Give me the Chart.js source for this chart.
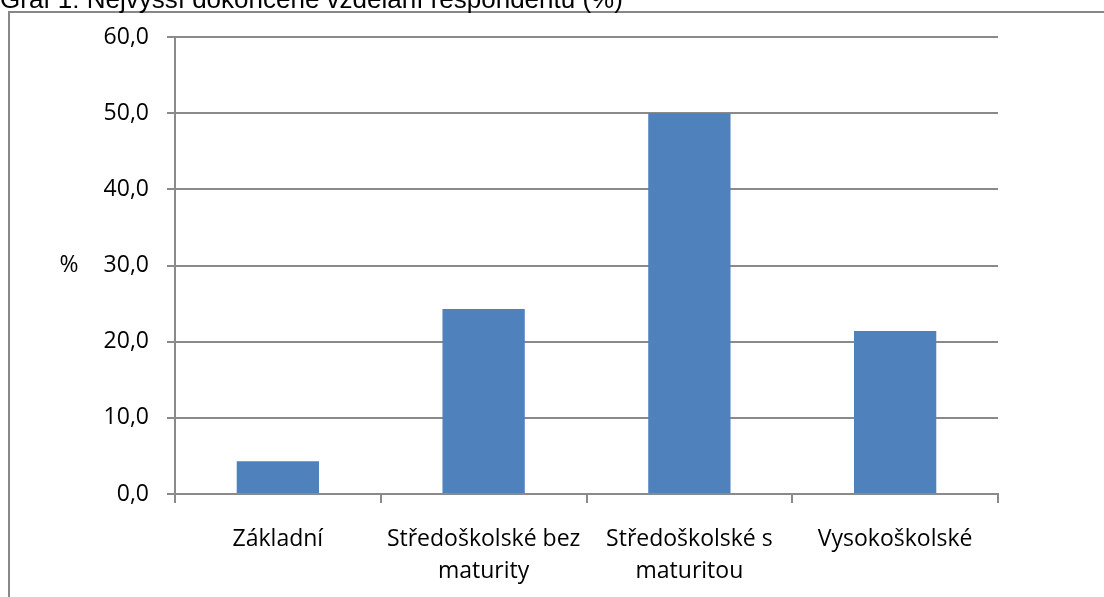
<!DOCTYPE html>
<html>
<head>
<meta charset="utf-8">
<script src="https://cdn.jsdelivr.net/npm/chart.js@4"></script>
<style>
  html, body { margin: 0; padding: 0; background: #fff; }
  #wrap { position: relative; width: 1104px; height: 597px; overflow: hidden; }
  #frame { position: absolute; left: 8px; top: 11px; width: 1200px; height: 700px; border: 2px solid #888; box-sizing: border-box; }
  #c { position: absolute; left: 0; top: 0; }
</style>
</head>
<body>
<div id="wrap">
  <div id="frame"></div>
  <canvas id="c" width="1104" height="597"></canvas>
</div>
<script>
const chartTitle = "Graf 1: Nejvyšší dokončené vzdělání respondentů (%)";
const categories = [
    ["Základní"],
    ["Středoškolské bez", "maturity"],
    ["Středoškolské s", "maturitou"],
    ["Vysokoškolské"]
];
const values = [4.3, 24.3, 50.0, 21.4];
const yTitle = "%";

const gray = "#8a8a8a";
const font = { family: "'Open Sans'", size: 23 };

// title (cut at top) and the horizontal "%" label
const extras = {
    id: "extras",
    afterDraw(chart) {
        const ctx = chart.ctx;
        const a = chart.chartArea;
        ctx.save();
        ctx.fillStyle = "#000";
        ctx.font = "26px 'Liberation Sans'";
        ctx.textAlign = "left";
        ctx.textBaseline = "alphabetic";
        ctx.fillText(chartTitle, 0, 8);
        ctx.font = "23px 'Open Sans'";
        ctx.textAlign = "center";
        ctx.textBaseline = "middle";
        ctx.fillText(yTitle, 69, (a.top + a.bottom) / 2);
        ctx.restore();
    }
};

new Chart(document.getElementById("c"), {
    type: "bar",
    data: {
        labels: categories,
        datasets: [{
            data: values,
            backgroundColor: "#4f81bd",
            borderWidth: 0,
            barPercentage: 0.4,
            categoryPercentage: 1
        }]
    },
    options: {
        responsive: false,
        animation: false,
        layout: { padding: { top: 37, right: 106, left: 0, bottom: 0 } },
        plugins: {
            legend: { display: false },
            tooltip: { enabled: false }
        },
        scales: {
            x: {
                grid: {
                    offset: true,
                    drawOnChartArea: false,
                    color: gray,
                    lineWidth: 2,
                    tickLength: 9
                },
                border: { color: gray, width: 2 },
                ticks: {
                    color: "#000",
                    font: { ...font, lineHeight: 1.4 },
                    padding: 20,
                    maxRotation: 0,
                    autoSkip: false
                },
                afterFit: s => { s.height = 597 - 494; }
            },
            y: {
                min: 0,
                max: 60,
                ticks: {
                    stepSize: 10,
                    color: "#000",
                    font: font,
                    padding: 18,
                    callback: v => v.toFixed(1).replace(".", ",")
                },
                grid: {
                    color: gray,
                    lineWidth: 2,
                    tickLength: 8
                },
                border: { color: gray, width: 2 },
                afterFit: s => { s.width = 175; }
            }
        }
    },
    plugins: [extras]
});
</script>
</body>
</html>
